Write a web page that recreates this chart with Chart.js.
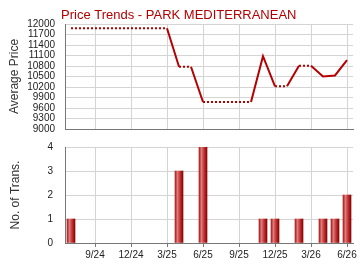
<!DOCTYPE html>
<html>
<head>
    <title>Price Trends</title>
    <script src="https://cdn.jsdelivr.net/npm/chart.js"></script>
    <style>
        body { margin: 0; background: #fff; }
        .box { position: absolute; left: 0; width: 360px; height: 135px; }
    </style>
</head>
<body>
<div class="box" style="top:0"><canvas id="priceChart"></canvas></div>
<div class="box" style="top:135px"><canvas id="transChart"></canvas></div>
<script>
    // one entry per month, 7/24 .. 6/26
    const months = ['7/24', '8/24', '9/24', '10/24', '11/24', '12/24', '1/25', '2/25', '3/25', '4/25', '5/25', '6/25',
        '7/25', '8/25', '9/25', '10/25', '11/25', '12/25', '1/26', '2/26', '3/26', '4/26', '5/26', '6/26'];
    const avgPrice = [11880, 11880, 11880, 11880, 11880, 11880, 11880, 11880, 11880, 10780, 10780, 9770,
        9770, 9770, 9770, 9770, 11080, 10220, 10220, 10810, 10810, 10500, 10530, 10970];
    const counts = [1, 0, 0, 0, 0, 0, 0, 0, 0, 3, 0, 4,
        0, 0, 0, 0, 1, 1, 0, 1, 0, 1, 1, 2];
    const tickMonths = ['9/24', '12/24', '3/25', '6/25', '9/25', '12/25', '3/26', '6/26'];
    const chartTitle = 'Price Trends - PARK MEDITERRANEAN';

    const lineColor = '#b40000';
    const gridColor = '#d4d4d4';
    const axisColor = '#777';
    const font = 'Liberation Sans';

    const tickIndexes = tickMonths.map(m => months.indexOf(m));

    function xScale(showLabels) {
        return {
            type: 'linear',
            offset: false,
            min: -0.5,
            max: 23.5,
            afterBuildTicks: axis => { axis.ticks = tickIndexes.map(v => ({value: v})); },
            afterFit: axis => { axis.height = showLabels ? 27 : 4; },
            grid: {color: gridColor, offset: false, drawTicks: showLabels, tickLength: 4, tickColor: axisColor},
            border: {color: axisColor},
            ticks: {
                display: showLabels,
                autoSkip: false,
                maxRotation: 0,
                padding: 2,
                color: '#222',
                font: {family: font, size: 10},
                callback: v => months[v]
            }
        };
    }

    // y axis: gap between labels and axis made with invisible tick marks
    function yGrid() {
        return {color: gridColor, drawTicks: true, tickLength: 10, tickColor: 'rgba(0,0,0,0)'};
    }

    const titlePlugin = {
        id: 'leftTitle',
        afterDraw(chart) {
            const ctx = chart.ctx;
            ctx.save();
            ctx.font = '13px "' + font + '"';
            ctx.fillStyle = lineColor;
            ctx.textBaseline = 'alphabetic';
            ctx.fillText(chartTitle, 61, 19);
            ctx.restore();
        }
    };

    new Chart(document.getElementById('priceChart'), {
        type: 'line',
        data: {
            datasets: [{
                data: avgPrice.map((v, i) => ({x: i, y: v})),
                borderColor: lineColor,
                borderWidth: 2,
                pointRadius: 0,
                tension: 0,
                segment: {
                    borderDash: ctx => counts[ctx.p1DataIndex] > 0 ? undefined : [2, 2]
                }
            }]
        },
        options: {
            responsive: true,
            maintainAspectRatio: false,
            animation: false,
            layout: {padding: {top: 24, right: 7, left: 0, bottom: 0}},
            plugins: {legend: {display: false}, tooltip: {enabled: false}},
            scales: {
                x: xScale(false),
                y: {
                    min: 9000,
                    max: 12000,
                    afterFit: axis => { axis.width = 65; },
                    afterBuildTicks: axis => {
                        const t = [];
                        for (let v = 9000; v <= 12000; v += 300) t.push({value: v});
                        axis.ticks = t;
                    },
                    grid: yGrid(),
                    border: {color: axisColor},
                    ticks: {autoSkip: false, padding: 0, color: '#222', font: {family: font, size: 10},
                        callback: v => String(v)},
                    title: {display: true, text: 'Average Price', color: '#333', padding: {top: 7, bottom: 0},
                        font: {family: font, size: 12}}
                }
            }
        },
        plugins: [titlePlugin]
    });

    function barFill(ctx) {
        const chart = ctx.chart;
        if (!chart.chartArea || !ctx.raw) return '#c03030';
        const x = chart.scales.x.getPixelForValue(ctx.raw.x);
        const g = chart.ctx.createLinearGradient(x - 4, 0, x + 4, 0);
        g.addColorStop(0, '#a31c1c');
        g.addColorStop(0.3, '#e07a7a');
        g.addColorStop(0.6, '#c43a3a');
        g.addColorStop(1, '#8a0000');
        return g;
    }

    new Chart(document.getElementById('transChart'), {
        type: 'bar',
        data: {
            datasets: [{
                data: counts.map((v, i) => ({x: i, y: v > 0 ? v : null})),
                backgroundColor: barFill,
                borderWidth: 0,
                barThickness: 8
            }]
        },
        options: {
            responsive: true,
            maintainAspectRatio: false,
            animation: false,
            layout: {padding: {top: 12, right: 7, left: 0, bottom: 0}},
            plugins: {legend: {display: false}, tooltip: {enabled: false}},
            scales: {
                x: xScale(true),
                y: {
                    min: 0,
                    max: 4,
                    afterFit: axis => { axis.width = 65; },
                    grid: {color: gridColor, drawTicks: true, tickLength: 12, tickColor: 'rgba(0,0,0,0)'},
                    border: {color: axisColor},
                    ticks: {stepSize: 1, padding: 0, color: '#222', font: {family: font, size: 10}},
                    title: {display: true, text: 'No. of Trans.', color: '#333', padding: {top: 8, bottom: 0},
                        font: {family: font, size: 12}}
                }
            }
        }
    });
</script>
</body>
</html>
